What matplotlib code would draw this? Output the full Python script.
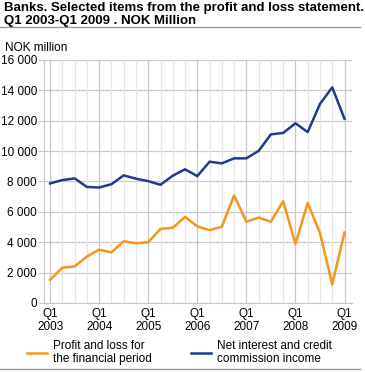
import matplotlib
matplotlib.use("Agg")
import matplotlib.pyplot as plt
from matplotlib.lines import Line2D

plt.rcParams['font.family'] = ['Liberation Sans', 'DejaVu Sans']

# quarters Q1 2003 .. Q1 2009
quarters = [f"Q{q} {y}" for y in range(2003, 2010) for q in range(1, 5)][:25]
profit = [1530, 2330, 2400, 3060, 3510, 3330, 4060, 3930, 4000, 4880, 4950, 5660,
          5040, 4800, 5020, 7080, 5350, 5620, 5350, 6700, 3890, 6590, 4600, 1220, 4640]
net_interest = [7870, 8090, 8200, 7640, 7600, 7820, 8400, 8180, 8020, 7780, 8380, 8800,
                8350, 9300, 9190, 9520, 9520, 10010, 11100, 11190, 11830, 11250, 13100, 14190, 12120]
tick_labels = ["Q1\n2003", "Q1\n2004", "Q1\n2005", "Q1\n2006", "Q1\n2007", "Q1\n2008", "Q1\n2009"]
y_ticks = list(range(0, 16001, 2000))

orange = '#f7941d'
blue = '#1f3c8c'

fig = plt.figure(figsize=(3.65, 3.72), dpi=100)
ax = fig.add_axes([0.1205, 0.1855, 0.8435, 0.6535])

x = list(range(len(quarters)))
ax.plot(x, profit, color=orange, lw=1.8, zorder=3)
ax.plot(x, net_interest, color=blue, lw=1.8, zorder=3)

ax.set_xlim(-0.5, 24.6)
ax.set_ylim(0, 16000)

for i in x:
    ax.axvline(i, color='#c8c8c8' if i % 4 == 0 else '#e6e6e6', lw=0.9, zorder=1)
ax.set_yticks(y_ticks)
ax.set_yticklabels([f"{v:,}".replace(",", " ") for v in y_ticks], fontsize=8.5)
ax.yaxis.grid(True, color='#cccccc', lw=0.9)
ax.set_axisbelow(True)
ax.set_xticks(x[::4])
ax.set_xticklabels(tick_labels, fontsize=8.5, linespacing=1.1)
ax.tick_params(axis='x', length=0, pad=3.5)
ax.tick_params(axis='y', length=4, color='#c8c8c8', pad=1)

for s in ['top', 'right']:
    ax.spines[s].set_visible(False)
ax.spines['left'].set_color('#c8c8c8')
ax.spines['bottom'].set_color('#c8c8c8')

fig.text(0.012, 0.995, "Banks. Selected items from the profit and loss statement.\nQ1 2003-Q1 2009 . NOK Million",
         fontsize=9.5, fontweight='bold', va='top', ha='left', linespacing=1.15)
fig.add_artist(Line2D([0, 0.985], [0.927, 0.927], color='#999999', lw=1))
fig.text(0.014, 0.872, "NOK million", fontsize=8.5, va='center', ha='left')

handles = [Line2D([], [], color=orange, lw=1.8), Line2D([], [], color=blue, lw=1.8)]
fig.legend(handles, ["Profit and loss for\nthe financial period", "Net interest and credit\ncommission income"],
           loc='upper left', bbox_to_anchor=(0.074, 0.087), ncol=2, frameon=False, fontsize=8.5,
           handlelength=1.7, handletextpad=0.5, columnspacing=3.3, borderaxespad=0, borderpad=0)
fig.add_artist(Line2D([0, 0.985], [0.008, 0.008], color='#999999', lw=1))

fig.savefig("out.png", dpi=100)
